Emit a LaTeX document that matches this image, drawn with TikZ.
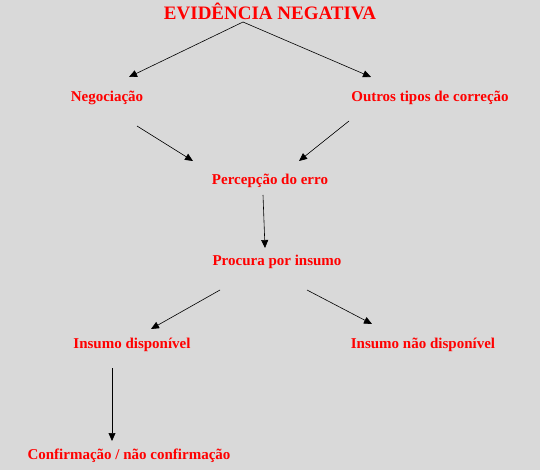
\documentclass[tikz,border=0pt]{standalone}
\usepackage{fontspec}
\setmainfont{Liberation Serif}
\usepackage{tikz}
\usetikzlibrary{arrows.meta}
\definecolor{fundo}{HTML}{D9D9D9}
\definecolor{verm}{HTML}{FF0000}

\begin{document}
\begin{tikzpicture}[x=1pt,y=-1pt,
>={Triangle[length=8pt,width=7pt]}, semithick,
rot/.style={text=verm,font=\bfseries\fontsize{15}{17}\selectfont,inner sep=0pt}]
\fill[fundo] (0,0) rectangle (540,470);
\useasboundingbox (0,0) rectangle (540,470);

\node (ev) at (270,11) [rot,font=\bfseries\fontsize{19}{21}\selectfont] {EVIDÊNCIA NEGATIVA};
\node (neg) at (107,98) [rot] {Negociação};
\node (out) at (430,98) [rot] {Outros tipos de correção};
\node (per) at (270,181) [rot] {Percepção do erro};
\node (pro) at (277,262) [rot] {Procura por insumo};
\node (disp) at (132,345) [rot] {Insumo disponível};
\node (ndisp) at (423,345) [rot] {Insumo não disponível};
\node (conf) at (129,456) [rot] {Confirmação / não confirmação};

% pontas soltas das setas
\coordinate (ev-s) at (243,22);
\coordinate (neg-e) at (129,77);
\coordinate (out-e) at (371,77);
\coordinate (neg-s) at (137,126);
\coordinate (out-s) at (349,121);
\coordinate (per-e1) at (193,161);
\coordinate (per-e2) at (299,161);
\coordinate (per-s) at (263,195);
\coordinate (pro-e) at (265,248);
\coordinate (pro-s1) at (220,290);
\coordinate (pro-s2) at (307,290);
\coordinate (disp-e) at (151,329);
\coordinate (ndisp-e) at (372,324);
\coordinate (disp-s) at (112,368);
\coordinate (conf-e) at (112,441);

\draw[->] (ev-s) -- (neg-e);
\draw[->] (ev-s) -- (out-e);
\draw[->] (neg-s) -- (per-e1);
\draw[->] (out-s) -- (per-e2);
\draw[->] (per-s) -- (pro-e);
\draw[->] (pro-s1) -- (disp-e);
\draw[->] (pro-s2) -- (ndisp-e);
\draw[->] (disp-s) -- (conf-e);

\end{tikzpicture}
\end{document}
